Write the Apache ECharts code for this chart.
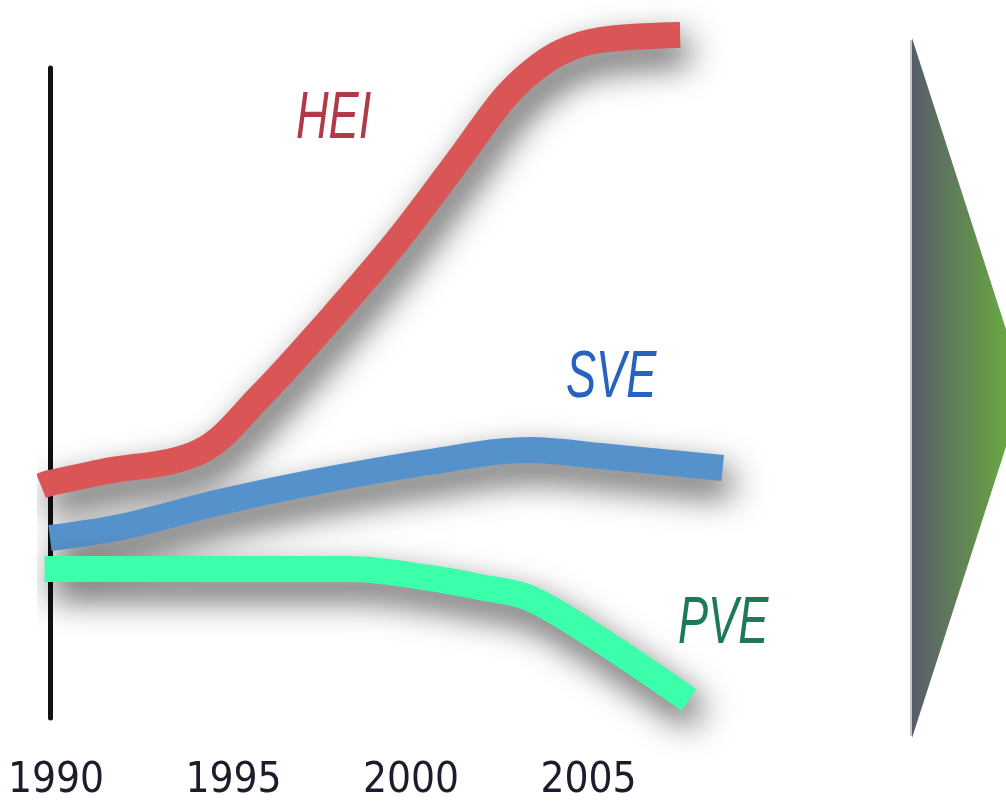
<!DOCTYPE html>
<html>
<head>
<meta charset="utf-8">
<style>
  html, body { margin: 0; background: #fff; }
  #chart { width: 1006px; height: 803px; }
</style>
<script src="https://cdn.jsdelivr.net/npm/echarts@6/dist/echarts.min.js"></script>
</head>
<body>
<div id="chart"></div>
<script>
// series names and their (year, value) points
const seriesNames = ["HEI", "SVE", "PVE"];
const seriesColors = ["#da5656", "#5592cb", "#3bffab"];
const labelColors = ["#b03a4a", "#2563bd", "#1d7a52"];

const heiYears = [1989.75, 1990, 1991.46, 1994.2, 1995.9, 1997.95, 1999.8, 2001.65, 2002.75, 2003.55, 2004.4, 2005.5, 2007.75];
const heiValues = [23.2, 23.5, 24.6, 26.6, 32.1, 40.1, 47.8, 56.5, 61.8, 64.6, 66.6, 67.8, 68.3];

const sveYears = [1990, 1992, 1994.8, 1997.6, 2000.7, 2003.5, 2005.5, 2008.95];
const sveValues = [18.0, 19.1, 21.6, 23.7, 25.6, 26.8, 26.2, 25.0];

const pveYears = [1989.85, 1990, 1998.45, 2000.7, 2002.1, 2003.5, 2005.5, 2008.0];
const pveValues = [14.9, 14.9, 14.9, 14.0, 13.1, 12.0, 7.8, 1.8];

const tickYears = [1990, 1995, 2000, 2005];

function zip(xs, ys) {
  return xs.map((x, i) => [x, ys[i]]);
}

const seriesData = [zip(heiYears, heiValues), zip(sveYears, sveValues), zip(pveYears, pveValues)];

const chart = echarts.init(document.getElementById("chart"), null, { renderer: "canvas" });

const tickFont = "'DejaVu Sans Condensed', 'Liberation Sans', sans-serif";
const nameFont = "'Liberation Sans', sans-serif";

function nameLabel(i, x, y) {
  return {
    type: "text",
    x,
    y,
    scaleX: 0.94,
    scaleY: 1.4,
    style: { text: seriesNames[i], fontSize: 48, fontStyle: "italic", fontFamily: nameFont, fill: labelColors[i] },
  };
}

chart.setOption({
  animation: false,
  backgroundColor: "#fff",
  grid: {
    left: 50,
    top: 68,
    width: 710,
    height: 650,
    outerBoundsMode: "none",
  },
  xAxis: {
    type: "value",
    min: 1990,
    max: 2010,
    interval: 5,
    axisLine: { show: false },
    axisTick: { show: false },
    splitLine: { show: false },
    axisLabel: {
      margin: 42,
      formatter: (v) => {
        if (!tickYears.includes(v)) return "";
        return v === 2005 ? "{up|" + v + "}" : "{n|" + v + "}";
      },
      rich: {
        n: { fontSize: 42, fontFamily: tickFont, color: "#1c1c2c", padding: [0, 0, 0, 12] },
        up: { fontSize: 42, fontFamily: tickFont, color: "#1c1c2c", padding: [0, 0, 10, 12] },
      },
    },
  },
  yAxis: {
    type: "value",
    min: 0,
    max: 65,
    axisLine: { show: true, onZero: false, lineStyle: { color: "#111", width: 5 } },
    axisTick: { show: false },
    axisLabel: { show: false },
    splitLine: { show: false },
  },
  series: seriesNames.map((name, i) => ({
    name,
    type: "line",
    data: seriesData[i],
    showSymbol: false,
    smooth: 0.35,
    clip: false,
    z: 2 + i,
    lineStyle: {
      width: 26,
      color: seriesColors[i],
      cap: "butt",
      join: "round",
      shadowColor: "rgba(0,0,0,0.7)",
      shadowBlur: 34,
      shadowOffsetX: 8,
      shadowOffsetY: 16,
    },
  })),
  graphic: [
    nameLabel(0, 296, 86),
    nameLabel(1, 566, 345),
    nameLabel(2, 678, 591),
    {
      type: "polygon",
      shape: { points: [[912, 38], [912, 738], [1025, 388]] },
      style: {
        fill: new echarts.graphic.LinearGradient(0, 0, 1, 0, [
          { offset: 0, color: "#585c6b" },
          { offset: 1, color: "#6cb63a" },
        ]),
      },
    },
    { type: "line", shape: { x1: 911, y1: 40, x2: 911, y2: 736 }, style: { stroke: "#c4c4cc", lineWidth: 2 } },
  ],
});
</script>
</body>
</html>
